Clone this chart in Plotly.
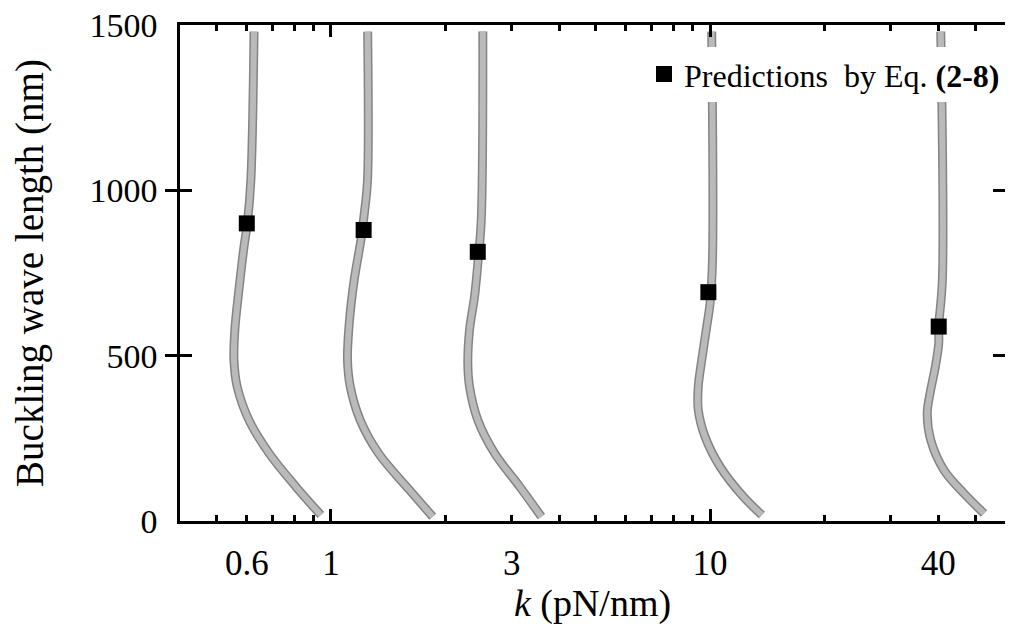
import plotly.graph_objects as go

# Simulated buckled shapes (k in pN/nm on log axis, height in nm)
curve_06_k = [0.941, 0.808, 0.687, 0.608, 0.566, 0.555, 0.558, 0.572, 0.590, 0.602, 0.615, 0.627]
curve_06_y = [18, 104, 205, 305, 406, 487, 578, 699, 830, 900, 1031, 1480]

curve_1_k = [1.856, 1.611, 1.335, 1.195, 1.125, 1.106, 1.118, 1.152, 1.200, 1.225, 1.249, 1.250]
curve_1_y = [13, 94, 205, 305, 406, 487, 598, 729, 850, 930, 1031, 1480]

curve_3_k = [3.591, 3.147, 2.702, 2.441, 2.321, 2.297, 2.321, 2.392, 2.441, 2.492, 2.516]
curve_3_y = [13, 104, 205, 305, 406, 477, 578, 678, 779, 910, 1480]

curve_10_k = [13.70, 12.25, 10.63, 9.70, 9.31, 9.31, 9.51, 9.80, 10.0, 10.15, 10.10]
curve_10_y = [18, 73, 164, 255, 336, 406, 487, 588, 658, 789, 1480]

curve_40_k = [52.8, 46.7, 41.4, 38.2, 37.4, 38.2, 39.3, 40.1, 40.1, 41.0, 40.6]
curve_40_y = [23, 84, 154, 245, 326, 396, 467, 537, 588, 729, 1480]

# Predictions by Eq. (2-8)
pred_k = [0.6, 1.22, 2.44, 9.9, 40.1]
pred_y = [900, 880, 814, 692, 588]

# Axis ticks
x_tickvals = [0.5, 0.6, 0.7, 0.8, 0.9, 1, 2, 3, 4, 5, 6, 7, 8, 9, 10, 20, 30, 40, 50]
x_ticktext = ["", "0.6", "", "", "", "1", "", "3", "", "", "", "", "", "", "10", "", "", "40", ""]
x_major = [1, 10]
y_tickvals = [0, 500, 1000, 1500]

curves = [(curve_06_k, curve_06_y), (curve_1_k, curve_1_y), (curve_3_k, curve_3_y),
          (curve_10_k, curve_10_y), (curve_40_k, curve_40_y)]

FONT = "Liberation Serif, Times New Roman, serif"

fig = go.Figure()
for ks, ys in curves:
    fig.add_trace(go.Scatter(x=ks, y=ys, mode="lines", showlegend=False, hoverinfo="skip",
                             line=dict(color="#848484", width=9, shape="spline", smoothing=1)))
for ks, ys in curves:
    fig.add_trace(go.Scatter(x=ks, y=ys, mode="lines", showlegend=False, hoverinfo="skip",
                             line=dict(color="#bababa", width=6, shape="spline", smoothing=1)))

fig.add_trace(go.Scatter(x=pred_k, y=pred_y, mode="markers", name="Predictions  by Eq. <b>(2-8)</b>",
                         marker=dict(symbol="square", size=16, color="black")))

# overlay axis for the long decade ticks
fig.add_trace(go.Scatter(x=[1, 10], y=[None, None], xaxis="x2", showlegend=False, hoverinfo="skip"))

# page body has an 8px default margin, so the figure is sized to fit the 1013x625 window
fig.update_layout(
    width=1005, height=617, autosize=False,
    margin=dict(l=172, r=8, t=17, b=104),
    paper_bgcolor="white", plot_bgcolor="white",
    font=dict(family=FONT, color="black", size=34),
    showlegend=True,
    legend=dict(x=1.0, y=0.956, xanchor="right", yanchor="top", bgcolor="white",
                borderwidth=0, font=dict(size=32, family=FONT), itemwidth=30,
                tracegroupgap=0),
    xaxis=dict(type="log", range=[-0.398, 1.778], tickvals=x_tickvals, ticktext=x_ticktext,
               ticks="inside", ticklen=6, tickwidth=2.5, tickcolor="black",
               showline=True, linewidth=2.5, linecolor="black", mirror="allticks",
               showgrid=False, zeroline=False, ticklabelstandoff=9, automargin=False,
               ticklabeloverflow="allow",
               tickfont=dict(size=35, family=FONT),
               title=dict(text="<i>k</i> (pN/nm)", font=dict(size=38, family=FONT), standoff=2)),
    xaxis2=dict(type="log", range=[-0.398, 1.778], overlaying="x", side="bottom",
                tickvals=x_major, ticks="inside", ticklen=12, tickwidth=2.5, tickcolor="black",
                showticklabels=False, showline=False, mirror="allticks", showgrid=False,
                zeroline=False, automargin=False),
    yaxis=dict(range=[0, 1500], tickvals=y_tickvals, ticks="inside", ticklen=12, tickwidth=2.5,
               tickcolor="black", showline=True, linewidth=2.5, linecolor="black", mirror="allticks",
               showgrid=False, zeroline=False, ticklabelstandoff=13, automargin=False,
               ticklabeloverflow="allow",
               tickfont=dict(size=34, family=FONT),
               title=dict(text="Buckling wave length (nm)", font=dict(size=39, family=FONT), standoff=38)),
)

fig.write_html("out.html")
